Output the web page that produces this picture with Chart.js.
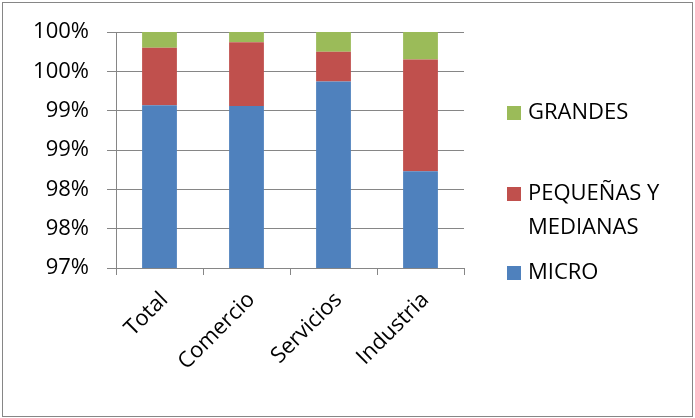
<!DOCTYPE html>
<html>
<head>
<meta charset="utf-8">
<script src="https://cdn.jsdelivr.net/npm/chart.js@4.4.1/dist/chart.umd.min.js"></script>
<style>
  html, body { margin: 0; padding: 0; background: #fff; }
</style>
</head>
<body>
<canvas id="graficoEmpresas" width="695" height="418"></canvas>
<script>
const categorias = ['Total', 'Comercio', 'Servicios', 'Industria'];
const micro = [99.07, 99.06, 99.37, 98.23];
const pequenasMedianas = [0.73, 0.81, 0.38, 1.42];
const grandes = [0.20, 0.13, 0.25, 0.35];
const ticksEje = [97, 97.5, 98, 98.5, 99, 99.5, 100];

const fuente = { family: "'Open Sans', sans-serif", size: 22 };
const gris = '#868686';

// marco gris alrededor del gráfico
const marco = {
  id: 'marco',
  beforeDraw(chart) {
    const ctx = chart.ctx;
    ctx.save();
    ctx.fillStyle = '#fff';
    ctx.fillRect(0, 0, chart.width, chart.height);
    ctx.strokeStyle = gris;
    ctx.lineWidth = 1;
    ctx.strokeRect(2.5, 2.5, 690, 414);
    ctx.restore();
  }
};

// leyenda a la derecha, en orden inverso y con salto de línea
const leyenda = {
  id: 'leyenda',
  afterDraw(chart) {
    const ctx = chart.ctx;
    const filas = [113, 194, 273];
    const items = chart.data.datasets.slice().reverse();
    ctx.save();
    ctx.font = fuente.size + 'px ' + fuente.family;
    ctx.textBaseline = 'middle';
    ctx.textAlign = 'left';
    items.forEach((ds, i) => {
      const y = filas[i];
      ctx.fillStyle = ds.backgroundColor;
      ctx.fillRect(507, y - 7, 14, 14);
      ctx.fillStyle = '#000';
      const palabras = ds.label.split(' ');
      const lineas = [];
      let linea = '';
      palabras.forEach(p => {
        const prueba = linea ? linea + ' ' + p : p;
        if (ctx.measureText(prueba).width > 155 && linea) {
          lineas.push(linea);
          linea = p;
        } else {
          linea = prueba;
        }
      });
      lineas.push(linea);
      lineas.forEach((l, j) => ctx.fillText(l, 528, y + j * 34));
    });
    ctx.restore();
  }
};

const ctx = document.getElementById('graficoEmpresas').getContext('2d');
new Chart(ctx, {
  type: 'bar',
  data: {
    labels: categorias,
    datasets: [
      { label: 'MICRO', data: micro, backgroundColor: '#4F81BD' },
      { label: 'PEQUEÑAS Y MEDIANAS', data: pequenasMedianas, backgroundColor: '#C0504D' },
      { label: 'GRANDES', data: grandes, backgroundColor: '#9BBB59' }
    ]
  },
  options: {
    responsive: false,
    animation: false,
    categoryPercentage: 1,
    barPercentage: 0.4,
    layout: { padding: { left: 0, top: 32, right: 231, bottom: 0 } },
    plugins: {
      legend: { display: false },
      tooltip: { enabled: false }
    },
    scales: {
      x: {
        stacked: true,
        grid: { offset: true, drawOnChartArea: false, color: gris, tickLength: 7 },
        border: { color: gris },
        ticks: { minRotation: 45, maxRotation: 45, color: '#000', font: fuente, padding: 12, labelOffset: 5 },
        afterFit(s) { s.height = 150; }
      },
      y: {
        stacked: true,
        min: ticksEje[0],
        max: ticksEje[ticksEje.length - 1],
        grid: { color: gris, tickLength: 9 },
        border: { color: gris },
        afterBuildTicks(s) { s.ticks = ticksEje.map(v => ({ value: v })); },
        ticks: {
          color: '#000',
          font: fuente,
          padding: 18,
          callback: v => Math.round(v) + '%'
        },
        afterFit(s) { s.width = 116; }
      }
    }
  },
  plugins: [marco, leyenda]
});
</script>
</body>
</html>
